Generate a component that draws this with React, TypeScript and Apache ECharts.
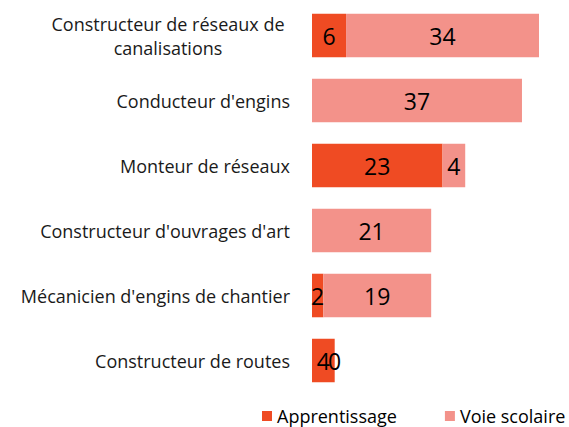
import React, { useEffect, useRef } from "react";
import * as echarts from "echarts";

const categories = [
  "Constructeur de réseaux de\ncanalisations",
  "Conducteur d'engins",
  "Monteur de réseaux",
  "Constructeur d'ouvrages d'art",
  "Mécanicien d'engins de chantier",
  "Constructeur de routes",
];
const apprentissage: (number | null)[] = [6, null, 23, null, 2, 4];
const voieScolaire: (number | null)[] = [34, 37, 4, 21, 19, 0];
const seriesNames = ["Apprentissage", "Voie scolaire"];

const FONT = "Open Sans";

export default function App() {
  const ref = useRef<HTMLDivElement>(null);
  useEffect(() => {
    if (!ref.current) return;
    const chart = echarts.init(ref.current, undefined, { renderer: "svg" });
    const labelStyle = {
      show: true,
      position: "inside" as const,
      color: "#000",
      fontSize: 23,
      fontFamily: FONT,
    };
    chart.setOption({
      animation: false,
      grid: { left: 312, right: 30, top: 3, bottom: 34, containLabel: false },
      legend: {
        data: seriesNames,
        left: 262,
        top: 407,
        width: 307,
        padding: 0,
        itemWidth: 10,
        itemHeight: 10,
        itemGap: 48,
        icon: "rect",
        textStyle: { fontSize: 18, fontFamily: FONT, color: "#000" },
      },
      xAxis: {
        type: "value",
        min: 0,
        max: 40,
        show: false,
      },
      yAxis: {
        type: "category",
        inverse: true,
        data: categories.map((c, i) =>
          i === 0
            ? { value: c, textStyle: { align: "center", padding: [0, 244, 0, 0] } }
            : c
        ),
        axisLine: { show: false },
        axisTick: { show: false },
        axisLabel: {
          margin: 22,
          fontSize: 18,
          fontFamily: FONT,
          color: "#1a1a1a",
          lineHeight: 24,
        },
      },
      series: [
        {
          name: seriesNames[0],
          type: "bar",
          stack: "total",
          barWidth: "67%",
          data: apprentissage,
          itemStyle: { color: "#EF4B23" },
          label: labelStyle,
        },
        {
          name: seriesNames[1],
          type: "bar",
          stack: "total",
          barWidth: "67%",
          data: voieScolaire,
          itemStyle: { color: "#F3928A" },
          label: labelStyle,
        },
      ],
    });
    return () => chart.dispose();
  }, []);
  return <div ref={ref} style={{ width: 569, height: 427, position: "absolute", left: 0, top: 0 }} />;
}
